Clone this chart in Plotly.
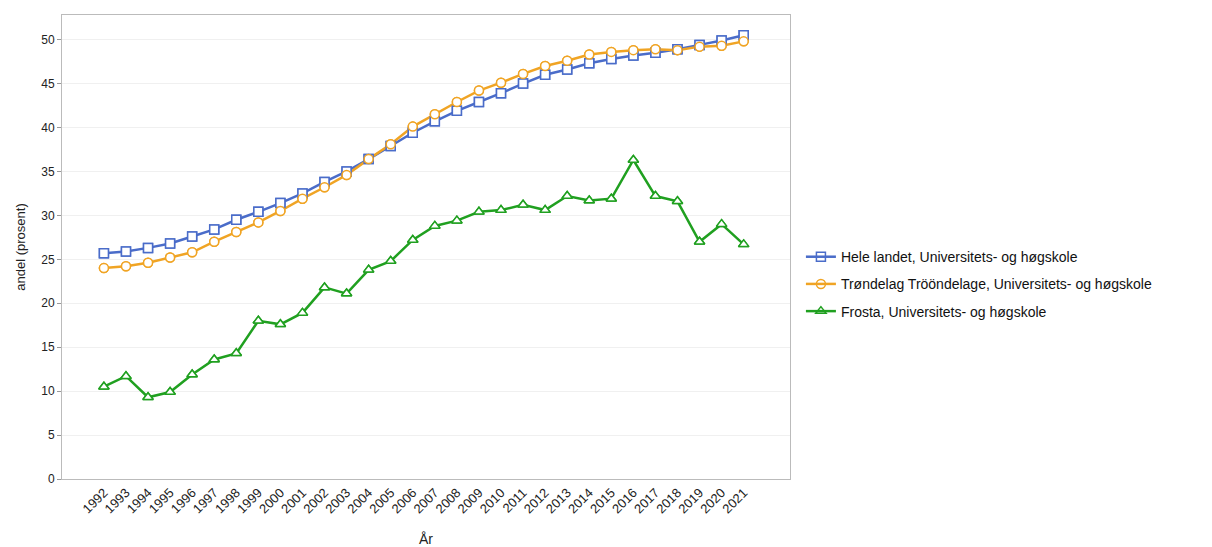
import plotly.graph_objs as go

years = [str(y) for y in range(1992, 2022)]

hele_landet = [25.7, 25.9, 26.3, 26.8, 27.6, 28.4, 29.5, 30.4, 31.4, 32.5,
               33.8, 35.0, 36.4, 37.9, 39.4, 40.7, 41.9, 42.9, 43.9, 45.0,
               46.0, 46.6, 47.3, 47.8, 48.2, 48.5, 48.9, 49.4, 49.9, 50.5]
trondelag = [24.0, 24.2, 24.6, 25.2, 25.8, 27.0, 28.1, 29.2, 30.5, 31.9,
             33.2, 34.6, 36.4, 38.1, 40.1, 41.5, 42.9, 44.2, 45.1, 46.1,
             47.0, 47.6, 48.3, 48.6, 48.8, 48.9, 48.8, 49.2, 49.3, 49.8]
frosta = [10.5, 11.7, 9.3, 9.9, 11.9, 13.6, 14.3, 18.0, 17.6, 18.9,
          21.8, 21.1, 23.8, 24.8, 27.2, 28.8, 29.4, 30.4, 30.6, 31.2,
          30.6, 32.2, 31.7, 31.9, 36.3, 32.2, 31.6, 27.0, 29.0, 26.7]

names = ['Hele landet, Universitets- og høgskole',
         'Trøndelag Trööndelage, Universitets- og høgskole',
         'Frosta, Universitets- og høgskole']
colors = ['#4a6cc9', '#f0a424', '#20a020']
symbols = ['square-open', 'circle-open', 'triangle-up-open']

fig = go.Figure()
for i, (name, vals, col, sym) in enumerate(zip(names, [hele_landet, trondelag, frosta], colors, symbols)):
    fig.add_trace(go.Scatter(x=years, y=vals, name=name, mode='lines+markers', legendgroup=str(i),
                             line=dict(color=col, width=2.5),
                             marker=dict(symbol=sym, size=9, color=col,
                                         line=dict(width=1.5, color=col))))
# white fill inside the open markers
for vals, col, sym in zip([hele_landet, trondelag, frosta], colors, symbols):
    fig.add_trace(go.Scatter(x=years, y=vals, mode='markers', showlegend=False, hoverinfo='skip',
                             marker=dict(symbol=sym.replace('-open', ''), size=9, color='white',
                                         line=dict(width=1.5, color=col))))

# page body adds 8px, so the figure is a bit smaller than the window
fig.update_layout(
    width=1204, height=539,
    margin=dict(l=54, r=422, t=7, b=68),
    paper_bgcolor='white', plot_bgcolor='white',
    font=dict(family='Liberation Sans, Arial, sans-serif', size=13, color='#222'),
    showlegend=True,
    legend=dict(x=1.015, y=0.42, xanchor='left', yanchor='middle',
                font=dict(size=14, color='#111'), tracegroupgap=6, itemwidth=30),
    xaxis=dict(title=dict(text='År', font=dict(size=14), standoff=19), automargin=False,
               tickangle=-45, showgrid=False, showline=True, linecolor='#bbb', mirror=True,
               ticks='', tickfont=dict(size=13, color='#222'), range=[-1.9, 31.1]),
    yaxis=dict(title=dict(text='andel (prosent)', font=dict(size=13), standoff=12),
               range=[0, 52.8], dtick=5, showgrid=True, gridcolor='#f0f0f0',
               showline=True, linecolor='#bbb', mirror=True, ticks='outside',
               ticklen=4, tickcolor='#999', zeroline=False, tickfont=dict(size=12, color='#222')),
)

fig.write_html("out.html")
